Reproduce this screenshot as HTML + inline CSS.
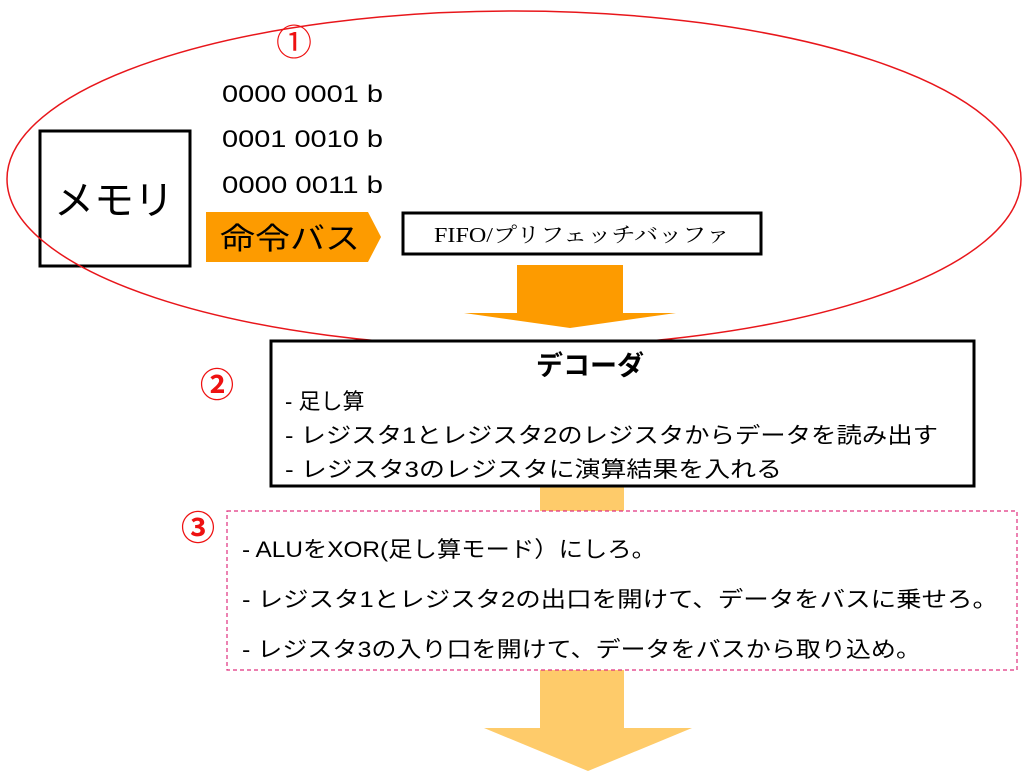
<!DOCTYPE html>
<html><head><meta charset="utf-8"><style>
html,body{margin:0;padding:0;background:#fff;}
svg{display:block;}
text{font-family:"Liberation Sans","Noto Sans CJK JP",sans-serif;}
</style></head><body>
<svg width="1026" height="781" viewBox="0 0 1026 781" xmlns="http://www.w3.org/2000/svg">
<rect width="1026" height="781" fill="#fff"/>
<rect x="540" y="487" width="84" height="243" fill="#fecb6a"/>
<polygon points="484,728 692,728 588,771" fill="#fecb6a"/>
<rect x="517" y="265" width="106" height="49" fill="#fd9b00"/>
<polygon points="464,313 676,313 570,328" fill="#fd9b00"/>
<rect x="40" y="131" width="150" height="135" fill="none" stroke="#000" stroke-width="3"/>
<text x="114" y="214" font-size="40" text-anchor="middle">メモリ</text>
<text x="222" y="102" font-size="24" textLength="161" lengthAdjust="spacingAndGlyphs">0000 0001 b</text>
<text x="222" y="147" font-size="24" textLength="161" lengthAdjust="spacingAndGlyphs">0001 0010 b</text>
<text x="222" y="193" font-size="24" textLength="161" lengthAdjust="spacingAndGlyphs">0000 0011 b</text>
<polygon points="206,212 368,212 381,237 368,262 206,262" fill="#fd9b00"/>
<text x="220" y="249" font-size="30" textLength="140" lengthAdjust="spacingAndGlyphs">命令バス</text>
<rect x="403" y="213" width="358" height="41" fill="#fff" stroke="#000" stroke-width="3"/>
<text x="582" y="242" font-size="21" text-anchor="middle" style="font-family:'Liberation Serif','Noto Serif CJK SC',serif" textLength="296" lengthAdjust="spacingAndGlyphs">FIFO/プリフェッチバッファ</text>
<ellipse cx="514" cy="179" rx="507" ry="168" fill="none" stroke="#e8161b" stroke-width="1.5"/>
<text x="294" y="55" font-size="36" fill="#ee1111" text-anchor="middle">①</text>
<rect x="271" y="341" width="703" height="145" fill="#fff" stroke="#000" stroke-width="3"/>
<text x="590" y="375" font-size="27" text-anchor="middle" font-weight="bold">デコーダ</text>
<text x="285" y="409" font-size="22">- 足し算</text>
<text x="285" y="443" font-size="22" textLength="653" lengthAdjust="spacingAndGlyphs">- レジスタ1とレジスタ2のレジスタからデータを読み出す</text>
<text x="285" y="477" font-size="22" textLength="497" lengthAdjust="spacingAndGlyphs">- レジスタ3のレジスタに演算結果を入れる</text>
<text x="217" y="397" font-size="34" fill="#ee1111" text-anchor="middle" font-weight="bold">②</text>
<rect x="227" y="511" width="790" height="159" fill="#fff" stroke="#e0307f" stroke-width="1.2" stroke-dasharray="4,3"/>
<text x="198" y="540" font-size="34" fill="#ee1111" text-anchor="middle" font-weight="bold">③</text>
<text x="242" y="557" font-size="22" textLength="414" lengthAdjust="spacingAndGlyphs">- ALUをXOR(足し算モード）にしろ。</text>
<text x="242" y="607" font-size="22" textLength="756" lengthAdjust="spacingAndGlyphs">-  レジスタ1とレジスタ2の出口を開けて、データをバスに乗せろ。</text>
<text x="242" y="657" font-size="22" textLength="679" lengthAdjust="spacingAndGlyphs">- レジスタ3の入り口を開けて、データをバスから取り込め。</text>
</svg>
</body></html>
